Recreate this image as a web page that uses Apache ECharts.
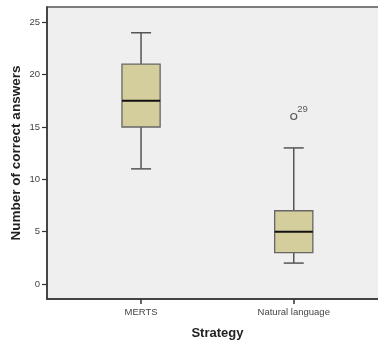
<!DOCTYPE html>
<html><head><meta charset="utf-8">
<script src="https://cdn.jsdelivr.net/npm/echarts@6/dist/echarts.min.js"></script>
<style>html,body{margin:0;padding:0;background:#fff}#c{width:378px;height:341px}</style>
</head><body><div id="c"></div>
<script>
const categories = ['MERTS', 'Natural language'];
const boxMin = [11, 2];
const boxQ1 = [15, 3];
const boxMedian = [17.5, 5];
const boxQ3 = [21, 7];
const boxMax = [24, 13];
const outlierCategory = ['Natural language'];
const outlierValues = [16];
const outlierLabels = ['29'];
const yTicks = [0, 5, 10, 15, 20, 25];
const yMin = -1.43, yMax = 26.46;

const boxData = categories.map((c, i) => [i, boxMin[i], boxQ1[i], boxMedian[i], boxQ3[i], boxMax[i]]);
const outData = outlierCategory.map((c, i) => ({value: [c, outlierValues[i]], label: {formatter: outlierLabels[i]}}));

function renderBox(params, api) {
  const x = api.value(0);
  const band = api.size([1, 0])[0];
  const hw = band * 0.125, cw = band * 0.0655;
  const pMin = api.coord([x, api.value(1)]);
  const pQ1 = api.coord([x, api.value(2)]);
  const pMed = api.coord([x, api.value(3)]);
  const pQ3 = api.coord([x, api.value(4)]);
  const pMax = api.coord([x, api.value(5)]);
  const cx = pMed[0];
  const whisk = {stroke: '#555', lineWidth: 1.5};
  return {type: 'group', children: [
    {type: 'line', shape: {x1: cx, y1: pQ3[1], x2: cx, y2: pMax[1]}, style: whisk},
    {type: 'line', shape: {x1: cx, y1: pQ1[1], x2: cx, y2: pMin[1]}, style: whisk},
    {type: 'line', shape: {x1: cx - cw, y1: pMax[1], x2: cx + cw, y2: pMax[1]}, style: whisk},
    {type: 'line', shape: {x1: cx - cw, y1: pMin[1], x2: cx + cw, y2: pMin[1]}, style: whisk},
    {type: 'rect', shape: {x: cx - hw, y: pQ3[1], width: 2 * hw, height: pQ1[1] - pQ3[1]},
     style: {fill: '#d4ce9c', stroke: '#666', lineWidth: 1.3}},
    {type: 'line', shape: {x1: cx - hw, y1: pMed[1], x2: cx + hw, y2: pMed[1]}, style: {stroke: '#111', lineWidth: 2}}
  ]};
}

const chart = echarts.init(document.getElementById('c'), null, {renderer: 'canvas'});
const tickFont = {fontFamily: 'Arial, Liberation Sans, sans-serif', fontSize: 9.5, color: '#444'};
chart.setOption({
  animation: false,
  backgroundColor: '#fff',
  grid: [
    {left: 47, top: 7, right: -4, bottom: 42, show: true, backgroundColor: '#efefef', borderWidth: 1.5, borderColor: '#555', outerBoundsMode: 'none', containLabel: false},
    {left: 64.7, top: 7, right: 7.9, bottom: 42, outerBoundsMode: 'none', containLabel: false}
  ],
  xAxis: [
    {gridIndex: 0, type: 'value', min: 0, max: 1, axisLine: {show: true, onZero: false, lineStyle: {color: '#333', width: 1.5}}, axisTick: {show: false}, axisLabel: {show: false}, splitLine: {show: false}},
    {gridIndex: 1, type: 'category', data: categories, boundaryGap: true,
     axisLine: {show: false, onZero: false}, axisTick: {show: true, inside: false, alignWithLabel: true, length: 5, lineStyle: {color: '#333', width: 1.5}},
     axisLabel: Object.assign({margin: 8}, tickFont), splitLine: {show: false},
     name: 'Strategy', nameLocation: 'middle', nameGap: 28, nameMoveOverlap: false,
     nameTextStyle: {fontFamily: 'Arial, Liberation Sans, sans-serif', fontSize: 13, fontWeight: 'bold', color: '#222'}}
  ],
  yAxis: [
    {gridIndex: 0, type: 'value', min: yMin, max: yMax,
     axisLine: {show: true, onZero: false, lineStyle: {color: '#333', width: 1.5}},
     axisTick: {show: true, inside: false, length: 5, customValues: yTicks, lineStyle: {color: '#333', width: 1.2}},
     axisLabel: Object.assign({customValues: yTicks, margin: 7}, tickFont), splitLine: {show: false},
     name: 'Number of correct answers', nameLocation: 'middle', nameGap: 24, nameMoveOverlap: false,
     nameTextStyle: {fontFamily: 'Arial, Liberation Sans, sans-serif', fontSize: 13.5, fontWeight: 'bold', color: '#222'}},
    {gridIndex: 1, type: 'value', min: yMin, max: yMax, show: false}
  ],
  series: [
    {type: 'custom', xAxisIndex: 1, yAxisIndex: 1, data: boxData, renderItem: renderBox,
     encode: {x: 0, y: [1, 2, 3, 4, 5]}},
    {type: 'scatter', xAxisIndex: 1, yAxisIndex: 1, data: outData, symbol: 'circle', symbolSize: 6,
     itemStyle: {color: '#efefef', borderColor: '#333', borderWidth: 1.2},
     label: {show: true, position: [7, -9], fontFamily: 'Arial, Liberation Sans, sans-serif', fontSize: 9.5, color: '#333'}}
  ]
});
</script></body></html>
